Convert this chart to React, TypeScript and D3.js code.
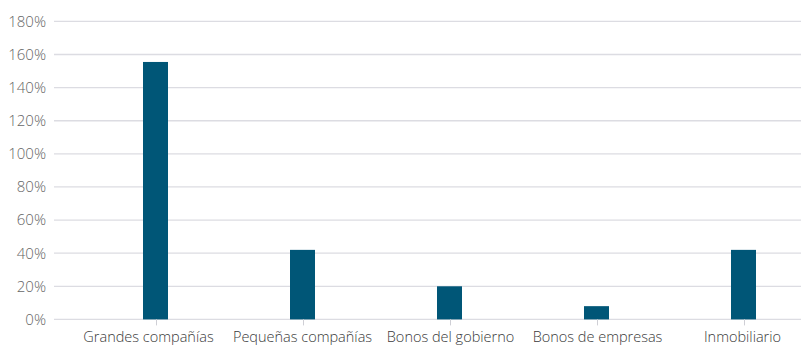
import React from "react";
import * as d3 from "d3";

const categories = ["Grandes compañías", "Pequeñas compañías", "Bonos del gobierno", "Bonos de empresas", "Inmobiliario"];
const values = [155.5, 42, 20, 8, 42];
const yTicks = [0, 20, 40, 60, 80, 100, 120, 140, 160, 180];
const labelShift = [-7, 0, 1, 1, -1];

export default function App() {
  const W = 801, H = 345;
  const y = d3.scaleLinear().domain([0, 180]).range([319.4, 21.4]);
  const x = d3.scaleBand<string>().domain(categories).range([82, 817]).paddingInner(0.83).paddingOuter(0.415);
  const gridX0 = 54, gridX1 = 801;
  const font = "'Open Sans', 'Noto Sans', sans-serif";
  return (
    <svg width={W} height={H} style={{ position: "absolute", left: 0, top: 0, background: "#fff" }}>
      {yTicks.map((t) => (
        <g key={t}>
          <line x1={gridX0} x2={gridX1} y1={y(t)} y2={y(t)} stroke="#dcdce2" strokeWidth={1.3} />
          <text x={46} y={y(t)} dy="0.36em" textAnchor="end" fontFamily={font} fontSize={15} fill="#666" fontWeight={300}>
            {t}%
          </text>
        </g>
      ))}
      {categories.map((c, i) => {
        const cx = (x(c) as number) + x.bandwidth() / 2;
        return (
          <g key={c}>
            <rect x={x(c)} y={y(values[i])} width={x.bandwidth()} height={y(0) - y(values[i])} fill="#005677" />
            <line x1={cx + 1} x2={cx + 1} y1={y(0)} y2={y(0) + 6} stroke="#cfcfd5" strokeWidth={1} />
            <text x={cx + labelShift[i]} y={342} textAnchor="middle" fontFamily={font} fontSize={14.5} fill="#3a3a3a" fontWeight={300}>
              {c}
            </text>
          </g>
        );
      })}
    </svg>
  );
}
